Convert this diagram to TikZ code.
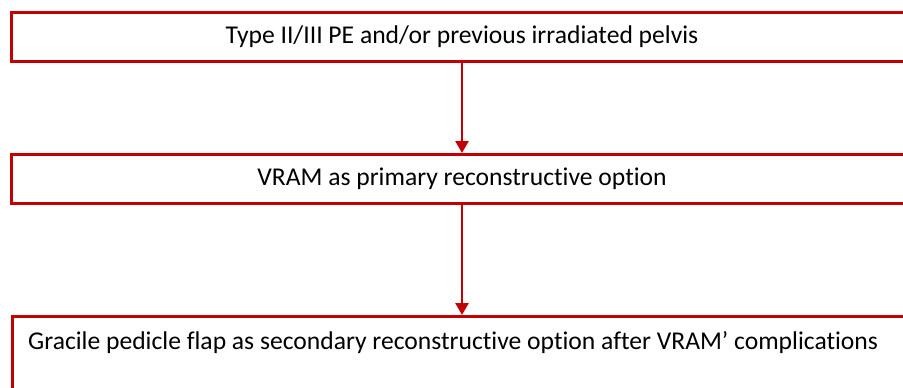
\documentclass[tikz,border=0pt]{standalone}
\usepackage{fontspec}
\setmainfont{Carlito}[Ligatures=NoCommon]
\usetikzlibrary{arrows.meta,positioning}
\definecolor{BoxClr}{rgb}{0.76,0,0}

\begin{document}
\begin{tikzpicture}[x=1pt,y=-1pt,
  box/.style={draw=BoxClr,line width=3pt,minimum width=902pt,minimum height=49pt,
    inner sep=0pt,font=\fontsize{25.6}{29}\selectfont},
  link/.style={draw=BoxClr,line width=2.5pt,-{Triangle[width=13pt,length=12pt]}}]
\useasboundingbox (0,0) rectangle (903,388);

\node[box] (type) at (462,36.5) {Type II/III PE and/or previous irradiated pelvis};
\node[box] (vram) at (462,179) {VRAM as primary reconstructive option};
\node[box,anchor=north west,minimum height=100pt,
  label={[anchor=north west,font=\fontsize{25.6}{29}\selectfont,inner sep=0pt,xshift=17pt,yshift=-16pt]north west:Gracile pedicle flap as secondary reconstructive option after VRAM’ complications}]
  (gracile) at (11,315) {};

\draw[link] (type) -- (vram);
\draw[link] (vram.south) -- (vram.south |- gracile.north);
\end{tikzpicture}
\end{document}
